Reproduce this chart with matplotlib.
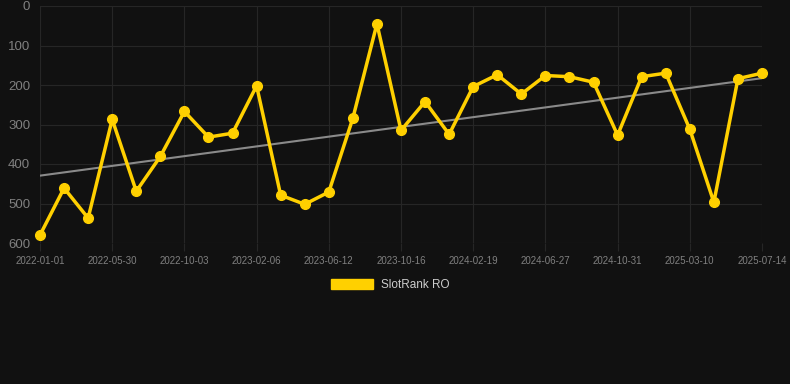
import numpy as np
import matplotlib.pyplot as plt
from matplotlib.patches import Patch

plt.rcParams['font.family'] = ['Liberation Sans', 'DejaVu Sans']

dates = ['2022-01-01', '', '', '2022-05-30', '', '', '2022-10-03', '', '', '2023-02-06', '', '',
         '2023-06-12', '', '', '2023-10-16', '', '', '2024-02-19', '', '', '2024-06-27', '', '',
         '2024-10-31', '', '', '2025-03-10', '', '', '2025-07-14']
ranks = [580, 461, 537, 287, 469, 381, 267, 332, 322, 202, 479, 502, 471, 284, 45,
         315, 242, 325, 204, 174, 223, 176, 179, 193, 327, 179, 170, 312, 497, 184, 170]

bg = '#111111'
fig = plt.figure(figsize=(7.9, 3.84), dpi=100, facecolor=bg)
ax = fig.add_axes([40 / 790, 1 - 243 / 384, 722 / 790, 237 / 384], facecolor=bg)

x = np.arange(len(ranks))

# trend line
k, b = np.polyfit(x, ranks, 1)
ax.plot(x, k * x + b, color='#8a8a8a', lw=1.5, zorder=2)

ax.plot(x, ranks, color='#FFD000', lw=2.5, marker='o', ms=7, zorder=3, clip_on=False)

ax.set_xlim(0, len(ranks) - 1)
ax.set_ylim(600, 0)
ax.set_yticks(range(0, 601, 100))
tick_pos = [i for i, d in enumerate(dates) if d]
ax.set_xticks(tick_pos)
ax.set_xticklabels([dates[i] for i in tick_pos])

ax.grid(True, color='#262626', lw=0.8)
ax.set_axisbelow(True)
for s in ax.spines.values():
    s.set_visible(False)
ax.tick_params(axis='y', colors='#262626', labelcolor='#808080', labelsize=9.5, length=0, pad=7)
ax.tick_params(axis='x', colors='#262626', labelcolor='#808080', labelsize=7, length=6, pad=3)

fig.legend(handles=[Patch(color='#FFD000', label='SlotRank RO')], loc='center',
           bbox_to_anchor=(390 / 790, 1 - 285 / 384), frameon=False, labelcolor='#cccccc',
           fontsize=8.5, handlelength=3.6, handleheight=0.9, handletextpad=0.6)

fig.savefig('out.png', dpi=100, facecolor=bg)
